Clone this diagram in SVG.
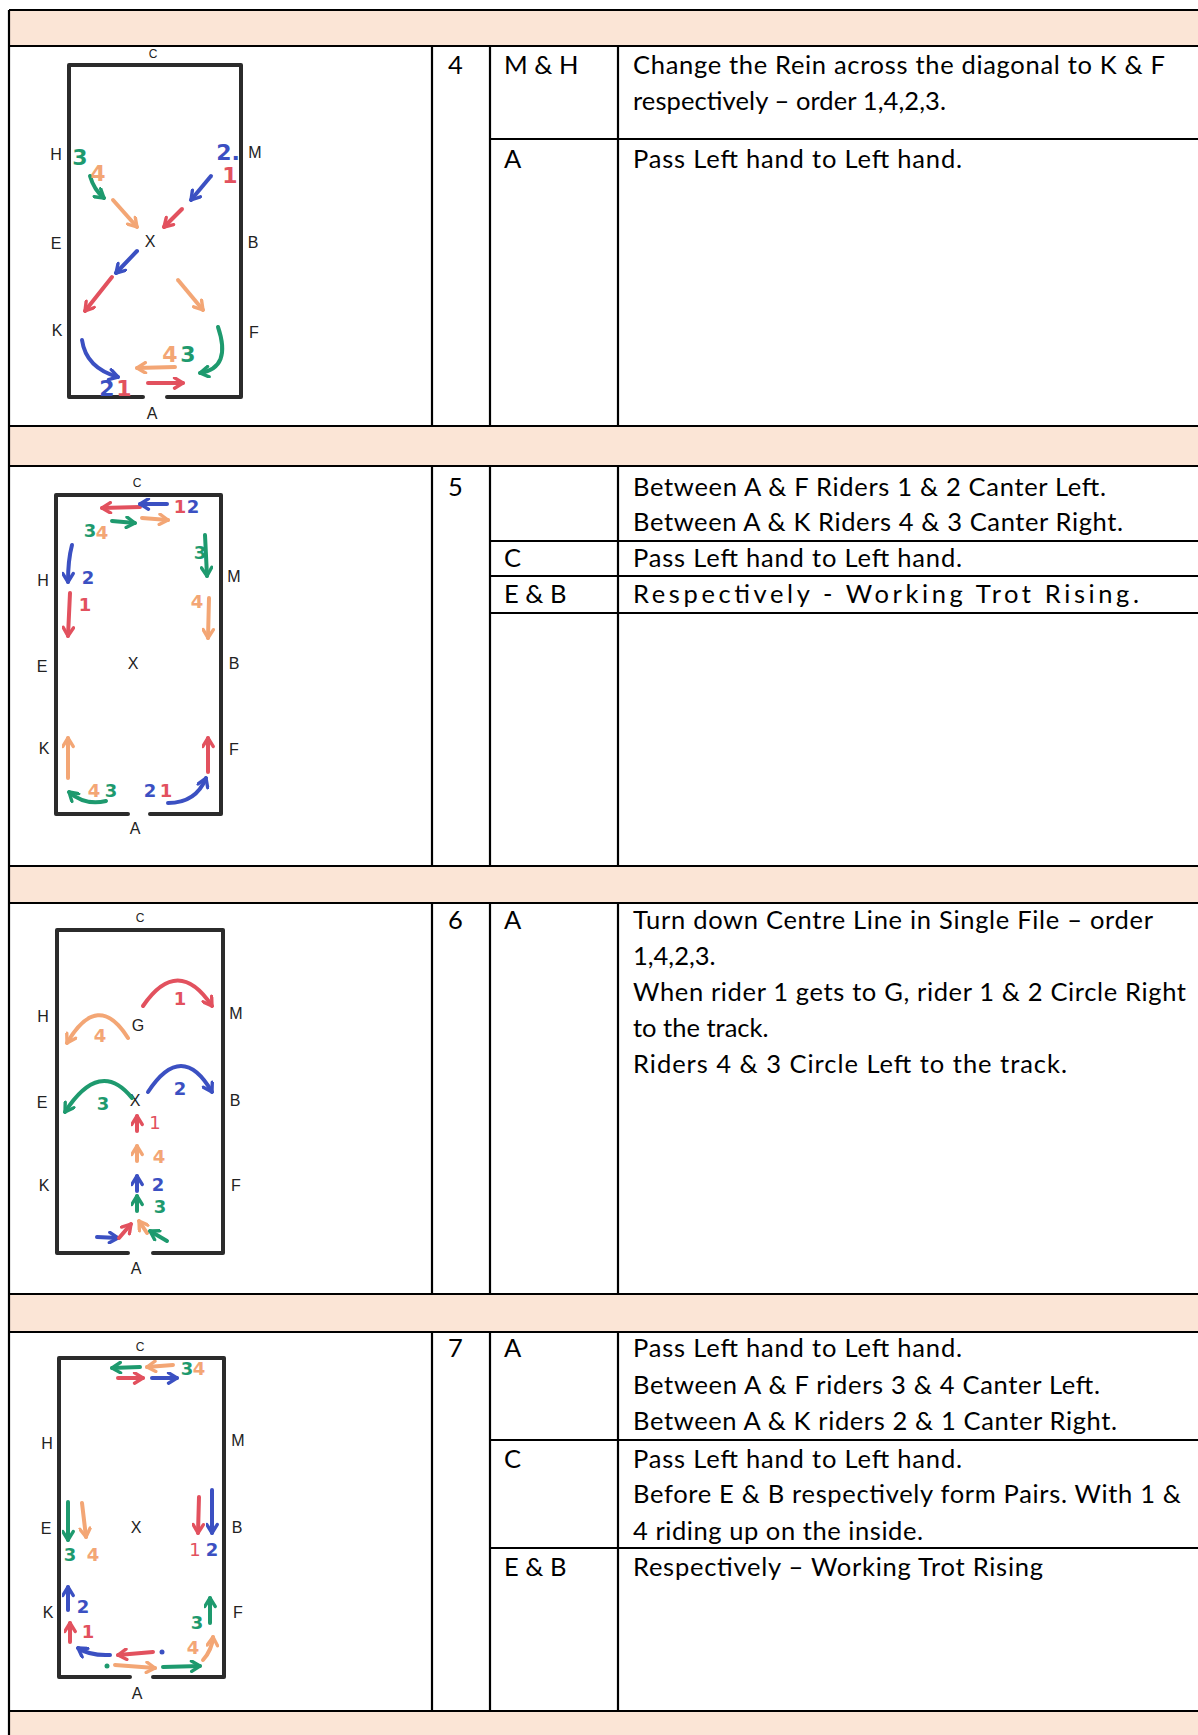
<svg xmlns="http://www.w3.org/2000/svg" width="1198" height="1735" viewBox="0 0 1198 1735">
<style>
.t{font-family:Lato,"Liberation Sans",sans-serif;font-size:25.5px;fill:#000}
.lbl{font-family:"Liberation Sans",sans-serif;font-size:16px;fill:#222;text-anchor:middle}
.sm{font-size:12px}
.wall{fill:none;stroke:#2b2b2b;stroke-width:4;stroke-linecap:round;stroke-linejoin:round}
.ar{fill:none;stroke-width:4;stroke-linecap:round;stroke-linejoin:round}
.b{stroke:#3b50c2}.r{stroke:#e2515e}.g{stroke:#1e9a6e}.o{stroke:#f3a675}
.n{font-family:"DejaVu Sans",sans-serif;font-weight:bold;font-size:18px;text-anchor:middle}
.nl{font-size:22px}
.fb{fill:#3b50c2}.fr{fill:#e2515e}.fg{fill:#1e9a6e}.fo{fill:#f3a675}
.grid{stroke:#000;stroke-width:2.2;fill:none}
.head{fill:#fbe5d6}
</style>
<defs>
<marker id="mb" viewBox="0 0 10 10" refX="8.5" refY="5" markerWidth="13" markerHeight="13" markerUnits="userSpaceOnUse" orient="auto"><path d="M2,1 L8.5,5 L2,9" fill="none" stroke="#3b50c2" stroke-width="2.6" stroke-linecap="round" stroke-linejoin="round"/></marker>
<marker id="mr" viewBox="0 0 10 10" refX="8.5" refY="5" markerWidth="13" markerHeight="13" markerUnits="userSpaceOnUse" orient="auto"><path d="M2,1 L8.5,5 L2,9" fill="none" stroke="#e2515e" stroke-width="2.6" stroke-linecap="round" stroke-linejoin="round"/></marker>
<marker id="mg" viewBox="0 0 10 10" refX="8.5" refY="5" markerWidth="13" markerHeight="13" markerUnits="userSpaceOnUse" orient="auto"><path d="M2,1 L8.5,5 L2,9" fill="none" stroke="#1e9a6e" stroke-width="2.6" stroke-linecap="round" stroke-linejoin="round"/></marker>
<marker id="mo" viewBox="0 0 10 10" refX="8.5" refY="5" markerWidth="13" markerHeight="13" markerUnits="userSpaceOnUse" orient="auto"><path d="M2,1 L8.5,5 L2,9" fill="none" stroke="#f3a675" stroke-width="2.6" stroke-linecap="round" stroke-linejoin="round"/></marker>
</defs>
<rect x="0" y="0" width="1198" height="1735" fill="#fff"/>

<g id="table">
<rect class="head" x="9" y="10" width="1189" height="36"/>
<rect class="head" x="9" y="426" width="1189" height="40"/>
<rect class="head" x="9" y="866" width="1189" height="37"/>
<rect class="head" x="9" y="1294" width="1189" height="38"/>
<rect class="head" x="9" y="1711" width="1189" height="24"/>
<path class="grid" d="M9,10 V1735 M9,10 H1198 M9,46 H1198 M9,426 H1198 M9,466 H1198 M9,866 H1198 M9,903 H1198 M9,1294 H1198 M9,1332 H1198 M9,1711 H1198"/>
<path class="grid" d="M432,46 V426 M490,46 V426 M618,46 V426 M432,466 V866 M490,466 V866 M618,466 V866 M432,903 V1294 M490,903 V1294 M618,903 V1294 M432,1332 V1711 M490,1332 V1711 M618,1332 V1711"/>
<path class="grid" d="M490,139 H1198 M490,541 H1198 M490,576 H1198 M490,613 H1198 M490,1440 H1198 M490,1548 H1198"/>
</g>

<g id="row4-text">
<text class="t" x="448" y="74">4</text>
<text class="t" x="504" y="74">M &amp; H</text>
<text class="t" x="633" y="74" textLength="532">Change the Rein across the diagonal to K &amp; F</text>
<text class="t" x="633" y="110" textLength="313">respectively – order 1,4,2,3.</text>
<text class="t" x="504" y="168">A</text>
<text class="t" x="633" y="168" textLength="329">Pass Left hand to Left hand.</text>
</g>
<g id="row5-text">
<text class="t" x="448" y="496">5</text>
<text class="t" x="633" y="496" textLength="473">Between A &amp; F Riders 1 &amp; 2 Canter Left.</text>
<text class="t" x="633" y="531" textLength="490">Between A &amp; K Riders 4 &amp; 3 Canter Right.</text>
<text class="t" x="504" y="567">C</text>
<text class="t" x="633" y="567" textLength="329">Pass Left hand to Left hand.</text>
<text class="t" x="504" y="603">E &amp; B</text>
<text class="t" x="633" y="603" textLength="506">Respectively - Working Trot Rising.</text>
</g>
<g id="row6-text">
<text class="t" x="448" y="929">6</text>
<text class="t" x="504" y="929">A</text>
<text class="t" x="633" y="929" textLength="520">Turn down Centre Line in Single File – order</text>
<text class="t" x="633" y="965">1,4,2,3.</text>
<text class="t" x="633" y="1001" textLength="553">When rider 1 gets to G, rider 1 &amp; 2 Circle Right</text>
<text class="t" x="633" y="1037">to the track.</text>
<text class="t" x="633" y="1073" textLength="434">Riders 4 &amp; 3 Circle Left to the track.</text>
</g>
<g id="row7-text">
<text class="t" x="448" y="1357">7</text>
<text class="t" x="504" y="1357">A</text>
<text class="t" x="633" y="1357" textLength="329">Pass Left hand to Left hand.</text>
<text class="t" x="633" y="1394" textLength="467">Between A &amp; F riders 3 &amp; 4 Canter Left.</text>
<text class="t" x="633" y="1430" textLength="484">Between A &amp; K riders 2 &amp; 1 Canter Right.</text>
<text class="t" x="504" y="1468">C</text>
<text class="t" x="633" y="1468" textLength="329">Pass Left hand to Left hand.</text>
<text class="t" x="633" y="1503" textLength="548">Before E &amp; B respectively form Pairs. With 1 &amp;</text>
<text class="t" x="633" y="1540" textLength="290">4 riding up on the inside.</text>
<text class="t" x="504" y="1576">E &amp; B</text>
<text class="t" x="633" y="1576" textLength="410">Respectively – Working Trot Rising</text>
</g>

<g id="arena4">
<path class="wall" d="M143,397 H69 V65 H241 V397 H167"/>
<text class="lbl sm" x="153" y="58">C</text>
<text class="lbl" x="56" y="160">H</text>
<text class="lbl" x="255" y="158">M</text>
<text class="lbl" x="56" y="249">E</text>
<text class="lbl" x="150" y="247">X</text>
<text class="lbl" x="253" y="248">B</text>
<text class="lbl" x="57" y="336">K</text>
<text class="lbl" x="254" y="338">F</text>
<text class="lbl" x="152" y="419">A</text>
<g id="arena4-moves">
<path class="ar g" d="M90,176 Q94,190 104,198" marker-end="url(#mg)"/>
<path class="ar o" d="M113,200 L137,227" marker-end="url(#mo)"/>
<path class="ar b" d="M211,176 L191,200" marker-end="url(#mb)"/>
<path class="ar r" d="M182,209 L164,227" marker-end="url(#mr)"/>
<path class="ar b" d="M137,251 L116,273" marker-end="url(#mb)"/>
<path class="ar r" d="M112,277 L85,311" marker-end="url(#mr)"/>
<path class="ar o" d="M178,280 L203,310" marker-end="url(#mo)"/>
<path class="ar b" d="M82,340 Q86,368 118,377" marker-end="url(#mb)"/>
<path class="ar r" d="M148,383 L183,383" marker-end="url(#mr)"/>
<path class="ar o" d="M175,367 L137,368" marker-end="url(#mo)"/>
<path class="ar g" d="M218,327 Q232,368 200,373" marker-end="url(#mg)"/>
<text class="n nl fg" x="80" y="165">3</text>
<text class="n nl fo" x="98" y="181">4</text>
<text class="n nl fb" x="228" y="160">2.</text>
<text class="n nl fr" x="230" y="183">1</text>
<text class="n nl fb" x="107" y="396">2</text>
<text class="n nl fr" x="124" y="396">1</text>
<text class="n nl fo" x="170" y="362">4</text>
<text class="n nl fg" x="188" y="362">3</text>
</g>
</g>

<g id="arena5">
<path class="wall" d="M128,814 H56 V495 H221 V814 H150"/>
<text class="lbl sm" x="137" y="487">C</text>
<text class="lbl" x="43" y="586">H</text>
<text class="lbl" x="234" y="582">M</text>
<text class="lbl" x="42" y="672">E</text>
<text class="lbl" x="133" y="669">X</text>
<text class="lbl" x="234" y="669">B</text>
<text class="lbl" x="44" y="754">K</text>
<text class="lbl" x="234" y="755">F</text>
<text class="lbl" x="135" y="834">A</text>
<g id="arena5-moves">
<path class="ar r" d="M140,507 L102,508" marker-end="url(#mr)"/>
<path class="ar b" d="M167,504 L140,504" marker-end="url(#mb)"/>
<path class="ar g" d="M112,521 L135,523" marker-end="url(#mg)"/>
<path class="ar o" d="M142,518 L168,520" marker-end="url(#mo)"/>
<path class="ar g" d="M205,535 L207,576" marker-end="url(#mg)"/>
<path class="ar b" d="M72,545 Q68,560 68,582" marker-end="url(#mb)"/>
<path class="ar r" d="M70,593 L68,636" marker-end="url(#mr)"/>
<path class="ar o" d="M209,598 L208,638" marker-end="url(#mo)"/>
<path class="ar o" d="M68,778 L68,738" marker-end="url(#mo)"/>
<path class="ar r" d="M208,772 L208,738" marker-end="url(#mr)"/>
<path class="ar g" d="M106,801 Q85,806 69,792" marker-end="url(#mg)"/>
<path class="ar b" d="M168,803 Q196,803 206,778" marker-end="url(#mb)"/>
<text class="n fr" x="180" y="513">1</text>
<text class="n fb" x="193" y="513">2</text>
<text class="n fg" x="90" y="537">3</text>
<text class="n fo" x="102" y="539">4</text>
<text class="n fg" x="200" y="559">3</text>
<text class="n fb" x="88" y="584">2</text>
<text class="n fr" x="85" y="611">1</text>
<text class="n fo" x="197" y="608">4</text>
<text class="n fo" x="94" y="797">4</text>
<text class="n fg" x="111" y="797">3</text>
<text class="n fb" x="150" y="797">2</text>
<text class="n fr" x="166" y="797">1</text>
</g>
</g>

<g id="arena6">
<path class="wall" d="M128,1253 H57 V930 H223 V1253 H153"/>
<text class="lbl sm" x="140" y="922">C</text>
<text class="lbl" x="43" y="1022">H</text>
<text class="lbl" x="236" y="1019">M</text>
<text class="lbl" x="138" y="1031">G</text>
<text class="lbl" x="42" y="1108">E</text>
<text class="lbl" x="135" y="1106">X</text>
<text class="lbl" x="235" y="1106">B</text>
<text class="lbl" x="44" y="1191">K</text>
<text class="lbl" x="236" y="1191">F</text>
<text class="lbl" x="136" y="1274">A</text>
<g id="arena6-moves">
<path class="ar r" d="M143,1006 Q178,955 212,1006" marker-end="url(#mr)"/>
<path class="ar o" d="M128,1038 Q98,990 67,1043" marker-end="url(#mo)"/>
<path class="ar g" d="M132,1098 Q100,1058 65,1112" marker-end="url(#mg)"/>
<path class="ar b" d="M148,1092 Q182,1040 212,1092" marker-end="url(#mb)"/>
<path class="ar r" d="M137,1131 L137,1116" marker-end="url(#mr)"/>
<path class="ar o" d="M137,1161 L137,1146" marker-end="url(#mo)"/>
<path class="ar b" d="M137,1191 L137,1176" marker-end="url(#mb)"/>
<path class="ar g" d="M137,1211 L137,1196" marker-end="url(#mg)"/>
<path class="ar b" d="M97,1237 L118,1238" marker-end="url(#mb)"/>
<path class="ar r" d="M119,1238 L131,1224" marker-end="url(#mr)"/>
<path class="ar o" d="M147,1233 L139,1221" marker-end="url(#mo)"/>
<path class="ar g" d="M167,1241 L150,1231" marker-end="url(#mg)"/>
<text class="n fr" x="180" y="1005">1</text>
<text class="n fo" x="100" y="1042">4</text>
<text class="n fg" x="103" y="1110">3</text>
<text class="n fb" x="180" y="1095">2</text>
<text class="n fr" x="155" y="1129" style="font-weight:normal">1</text>
<text class="n fo" x="159" y="1163">4</text>
<text class="n fb" x="158" y="1191">2</text>
<text class="n fg" x="160" y="1213">3</text>
</g>
</g>

<g id="arena7">
<path class="wall" d="M130,1677 H59 V1358 H224 V1677 H153"/>
<text class="lbl sm" x="140" y="1351">C</text>
<text class="lbl" x="47" y="1449">H</text>
<text class="lbl" x="238" y="1446">M</text>
<text class="lbl" x="46" y="1534">E</text>
<text class="lbl" x="136" y="1533">X</text>
<text class="lbl" x="237" y="1533">B</text>
<text class="lbl" x="48" y="1618">K</text>
<text class="lbl" x="238" y="1618">F</text>
<text class="lbl" x="137" y="1699">A</text>
<g id="arena7-moves">
<path class="ar g" d="M140,1367 L112,1368" marker-end="url(#mg)"/>
<path class="ar o" d="M173,1365 L147,1367" marker-end="url(#mo)"/>
<path class="ar r" d="M118,1378 L143,1378" marker-end="url(#mr)"/>
<path class="ar b" d="M152,1378 L177,1378" marker-end="url(#mb)"/>
<path class="ar g" d="M68,1502 L68,1540" marker-end="url(#mg)"/>
<path class="ar o" d="M82,1503 L86,1537" marker-end="url(#mo)"/>
<path class="ar r" d="M199,1497 L198,1533" marker-end="url(#mr)"/>
<path class="ar b" d="M212,1490 L212,1533" marker-end="url(#mb)"/>
<path class="ar b" d="M68,1610 L68,1587" marker-end="url(#mb)"/>
<path class="ar r" d="M70,1642 L70,1623" marker-end="url(#mr)"/>
<path class="ar b" d="M110,1655 Q90,1656 78,1648" marker-end="url(#mb)"/>
<path class="ar r" d="M153,1652 L118,1655" marker-end="url(#mr)"/>
<circle cx="162" cy="1652" r="2.5" class="fb"/>
<circle cx="107" cy="1666" r="2.5" class="fg"/>
<path class="ar o" d="M115,1665 L155,1668" marker-end="url(#mo)"/>
<path class="ar g" d="M163,1667 L200,1666" marker-end="url(#mg)"/>
<path class="ar g" d="M210,1623 L210,1598" marker-end="url(#mg)"/>
<path class="ar o" d="M203,1660 Q212,1650 213,1637" marker-end="url(#mo)"/>
<text class="n fg" x="187" y="1375">3</text>
<text class="n fo" x="199" y="1375">4</text>
<text class="n fg" x="70" y="1561">3</text>
<text class="n fo" x="93" y="1561">4</text>
<text class="n fr" x="195" y="1556" style="font-weight:normal">1</text>
<text class="n fb" x="212" y="1556">2</text>
<text class="n fb" x="83" y="1613">2</text>
<text class="n fr" x="88" y="1638">1</text>
<text class="n fg" x="197" y="1629">3</text>
<text class="n fo" x="193" y="1654">4</text>
</g>
</g>
</svg>
